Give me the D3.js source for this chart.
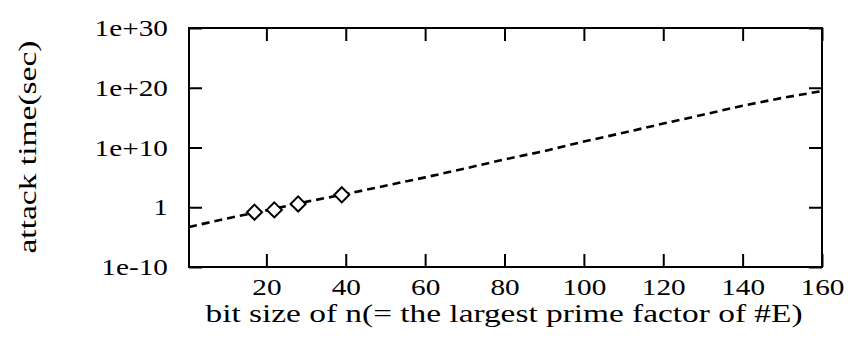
<!DOCTYPE html>
<html>
<head>
<meta charset="utf-8">
<script src="https://cdn.jsdelivr.net/npm/d3@7"></script>
<style>
  body { margin: 0; background: #fff; }
  text { font-family: "Liberation Serif", "Times New Roman", serif; fill: #000; }
</style>
</head>
<body>
<div id="chart"></div>
<script>
var width = 848;
var height = 354;

// fitted attack time curve (bit size -> seconds)
var curveBits = [0, 10, 20, 30, 40, 50, 60, 70, 80, 90, 100, 110, 120, 130, 140, 150, 160];
var curveTime = [5e-4, 1.3e-2, 3e-1, 8, 1.6e2, 4e3, 1e5, 3e6, 1e8, 2.5e9, 1e11, 3e12, 1e14, 3e15, 1e17, 2e18, 2.8e19];

// measured points
var pointBits = [17, 22, 28, 39];
var pointTime = [0.15, 0.36, 3.6, 1.2e2];

var xTicks = [20, 40, 60, 80, 100, 120, 140, 160];
var yTicks = [1e-10, 1, 1e10, 1e20, 1e30];
var yTickLabels = ["1e-10", "1", "1e+10", "1e+20", "1e+30"];

var margin = {left: 189, top: 28, right: 26, bottom: 87};
var w = width - margin.left - margin.right;
var h = height - margin.top - margin.bottom;
var stretch = 1.22; // the scanned glyphs are wider than Times

var svg = d3.select("#chart")
  .append("svg")
  .attr("width", width)
  .attr("height", height);

svg.append("rect")
  .attr("width", "100%")
  .attr("height", "100%")
  .attr("fill", "white");

var g = svg.append("g")
  .attr("transform", "translate(" + margin.left + "," + margin.top + ")");

var x = d3.scaleLinear().domain([0.5, 160]).range([0, w]);
var y = d3.scaleLog().domain([1e-10, 1e30]).range([h, 0]);

function styleAxis(sel) {
  sel.attr("font-family", null);
  sel.select(".domain").remove();
  sel.selectAll("line").attr("stroke", "#000").attr("stroke-width", 2);
}

function stretchText(sel) {
  sel.selectAll("text").each(function() {
    var t = d3.select(this);
    var xx = +t.attr("x") || 0;
    t.attr("x", xx / stretch).attr("transform", "scale(" + stretch + ",1)");
  });
}

// bottom axis, ticks pointing inward
var xAxis = g.append("g")
  .attr("transform", "translate(0," + h + ")")
  .call(d3.axisBottom(x).tickValues(xTicks).tickSizeInner(-13).tickSizeOuter(0).tickPadding(11));
styleAxis(xAxis);
xAxis.selectAll("text").style("font-size", "24px");
stretchText(xAxis);

// top mirror ticks
var xTop = g.append("g")
  .call(d3.axisTop(x).tickValues(xTicks).tickSizeInner(-13).tickSizeOuter(0).tickFormat(""));
styleAxis(xTop);

// left axis
var yAxis = g.append("g")
  .call(d3.axisLeft(y).tickValues(yTicks).tickSizeInner(-13).tickSizeOuter(0).tickPadding(21)
    .tickFormat(function(d, i) { return yTickLabels[i]; }));
styleAxis(yAxis);
yAxis.selectAll("text").style("font-size", "24px");
stretchText(yAxis);

// right mirror ticks
var yRight = g.append("g")
  .attr("transform", "translate(" + w + ",0)")
  .call(d3.axisRight(y).tickValues(yTicks).tickSizeInner(-13).tickSizeOuter(0).tickFormat(""));
styleAxis(yRight);

// frame
g.append("rect")
  .attr("width", w)
  .attr("height", h)
  .attr("fill", "none")
  .attr("stroke", "#000")
  .attr("stroke-width", 2);

// dashed curve
var line = d3.line()
  .x(function(d) { return x(d[0]); })
  .y(function(d) { return y(d[1]); });

var curveData = curveBits.map(function(b, i) { return [b, curveTime[i]]; });
curveData[0][0] = 0.5;

g.append("path")
  .datum(curveData)
  .attr("d", line)
  .attr("fill", "none")
  .attr("stroke", "#000")
  .attr("stroke-width", 2.6)
  .attr("stroke-dasharray", "8,5");

// diamonds
var diamond = d3.symbol().type(d3.symbolDiamond2).size(145);
g.selectAll(".pt")
  .data(pointBits.map(function(b, i) { return [b, pointTime[i]]; }))
  .enter()
  .append("path")
  .attr("class", "pt")
  .attr("d", diamond)
  .attr("transform", function(d) { return "translate(" + x(d[0]) + "," + y(d[1]) + ")"; })
  .attr("fill", "white")
  .attr("stroke", "#000")
  .attr("stroke-width", 2);

// axis titles
svg.append("text")
  .attr("x", 504)
  .attr("y", 322)
  .attr("text-anchor", "middle")
  .attr("textLength", 597)
  .attr("lengthAdjust", "spacingAndGlyphs")
  .style("font-size", "25px")
  .text("bit size of n(= the largest prime factor of #E)");

svg.append("text")
  .attr("transform", "translate(36,147) rotate(-90)")
  .attr("text-anchor", "middle")
  .attr("textLength", 213)
  .attr("lengthAdjust", "spacingAndGlyphs")
  .style("font-size", "25px")
  .text("attack time(sec)");
</script>
</body>
</html>
